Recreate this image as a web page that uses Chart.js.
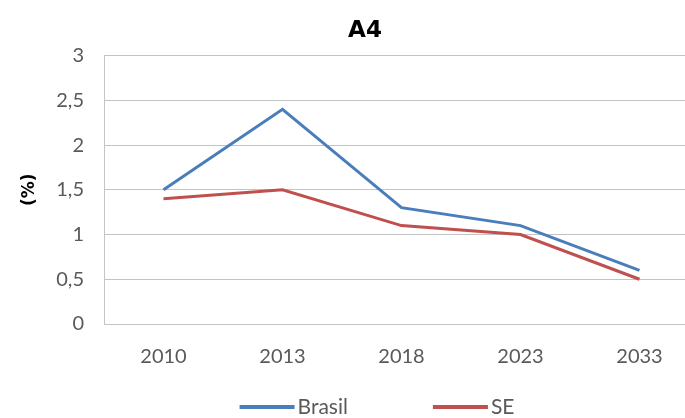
<!DOCTYPE html>
<html>
<head>
<meta charset="utf-8">
<script src="https://cdn.jsdelivr.net/npm/chart.js@4.4.1/dist/chart.umd.min.js"></script>
<style>
  html, body { margin: 0; padding: 0; background: #fff; overflow: hidden; }
  #wrap { width: 699px; height: 418px; }
</style>
</head>
<body>
<div id="wrap"><canvas id="c" width="699" height="418"></canvas></div>
<script>
const years = ['2010', '2013', '2018', '2023', '2033'];
const brasil = [1.5, 2.4, 1.3, 1.1, 0.6];
const se = [1.4, 1.5, 1.1, 1.0, 0.5];
const yTickLabels = ['0', '0,5', '1', '1,5', '2', '2,5', '3'];

const FONT = 'Lato, "Open Sans", sans-serif';
const TEXT = '#595959';
const GRID = '#c4c4c4';

// Legend drawn as line swatches centred under the plot, one row
const lineLegend = {
  id: 'lineLegend',
  afterDraw(chart, args, opts) {
    const ctx = chart.ctx;
    const items = chart.data.datasets.map(ds => ({ text: ds.label, color: ds.borderColor }));
    ctx.save();
    ctx.font = `${opts.fontSize}px ${FONT}`;
    const widths = items.map(it => opts.swatch + opts.textGap + ctx.measureText(it.text).width);
    const total = widths.reduce((a, b) => a + b, 0) + opts.itemGap * (items.length - 1);
    let x = opts.centerX - total / 2;
    const y = opts.y;
    items.forEach((it, i) => {
      ctx.strokeStyle = it.color;
      ctx.lineWidth = opts.lineWidth;
      ctx.lineCap = 'butt';
      ctx.beginPath();
      ctx.moveTo(x, y);
      ctx.lineTo(x + opts.swatch, y);
      ctx.stroke();
      ctx.fillStyle = TEXT;
      ctx.textBaseline = 'middle';
      ctx.textAlign = 'left';
      ctx.fillText(it.text, x + opts.swatch + opts.textGap, y);
      x += widths[i] + opts.itemGap;
    });
    ctx.restore();
  }
};

new Chart(document.getElementById('c'), {
  type: 'line',
  data: {
    labels: years,
    datasets: [
      { label: 'Brasil', data: brasil, borderColor: '#4a7ebb', backgroundColor: '#4a7ebb',
        borderWidth: 3, pointRadius: 0, tension: 0 },
      { label: 'SE', data: se, borderColor: '#c0504d', backgroundColor: '#c0504d',
        borderWidth: 3, pointRadius: 0, tension: 0 }
    ]
  },
  plugins: [lineLegend],
  options: {
    responsive: false,
    animation: false,
    layout: { padding: { left: 31, right: 0, top: 0, bottom: 49 } },
    plugins: {
      title: {
        display: true, text: 'A4', color: '#000',
        font: { family: '"DejaVu Sans", sans-serif', size: 23, weight: 'bold' },
        padding: { top: 17, bottom: 11 }
      },
      legend: { display: false },
      tooltip: { enabled: false },
      lineLegend: { centerX: 377, y: 407, swatch: 55, textGap: 3, itemGap: 85, lineWidth: 4, fontSize: 21 }
    },
    scales: {
      x: {
        offset: true,
        grid: { display: false, drawTicks: false },
        border: { display: true, color: GRID, width: 1 },
        ticks: { color: TEXT, font: { family: FONT, size: 20 }, padding: 21, maxRotation: 0 },
        afterFit: (s) => { s.height = 45; }
      },
      y: {
        min: 0, max: 3,
        grid: { color: GRID, lineWidth: 1, drawTicks: false },
        border: { display: true, color: GRID, width: 1 },
        ticks: {
          stepSize: 0.5, color: TEXT, font: { family: FONT, size: 20 }, padding: 20,
          callback: (v, i) => yTickLabels[i]
        },
        title: {
          display: true, text: '(%)', color: '#000',
          font: { family: '"DejaVu Sans", sans-serif', size: 17, weight: 'bold' },
          padding: { top: -12, bottom: 0 }
        },
        afterFit: (s) => { s.width = 73; }
      }
    }
  }
});
</script>
</body>
</html>
